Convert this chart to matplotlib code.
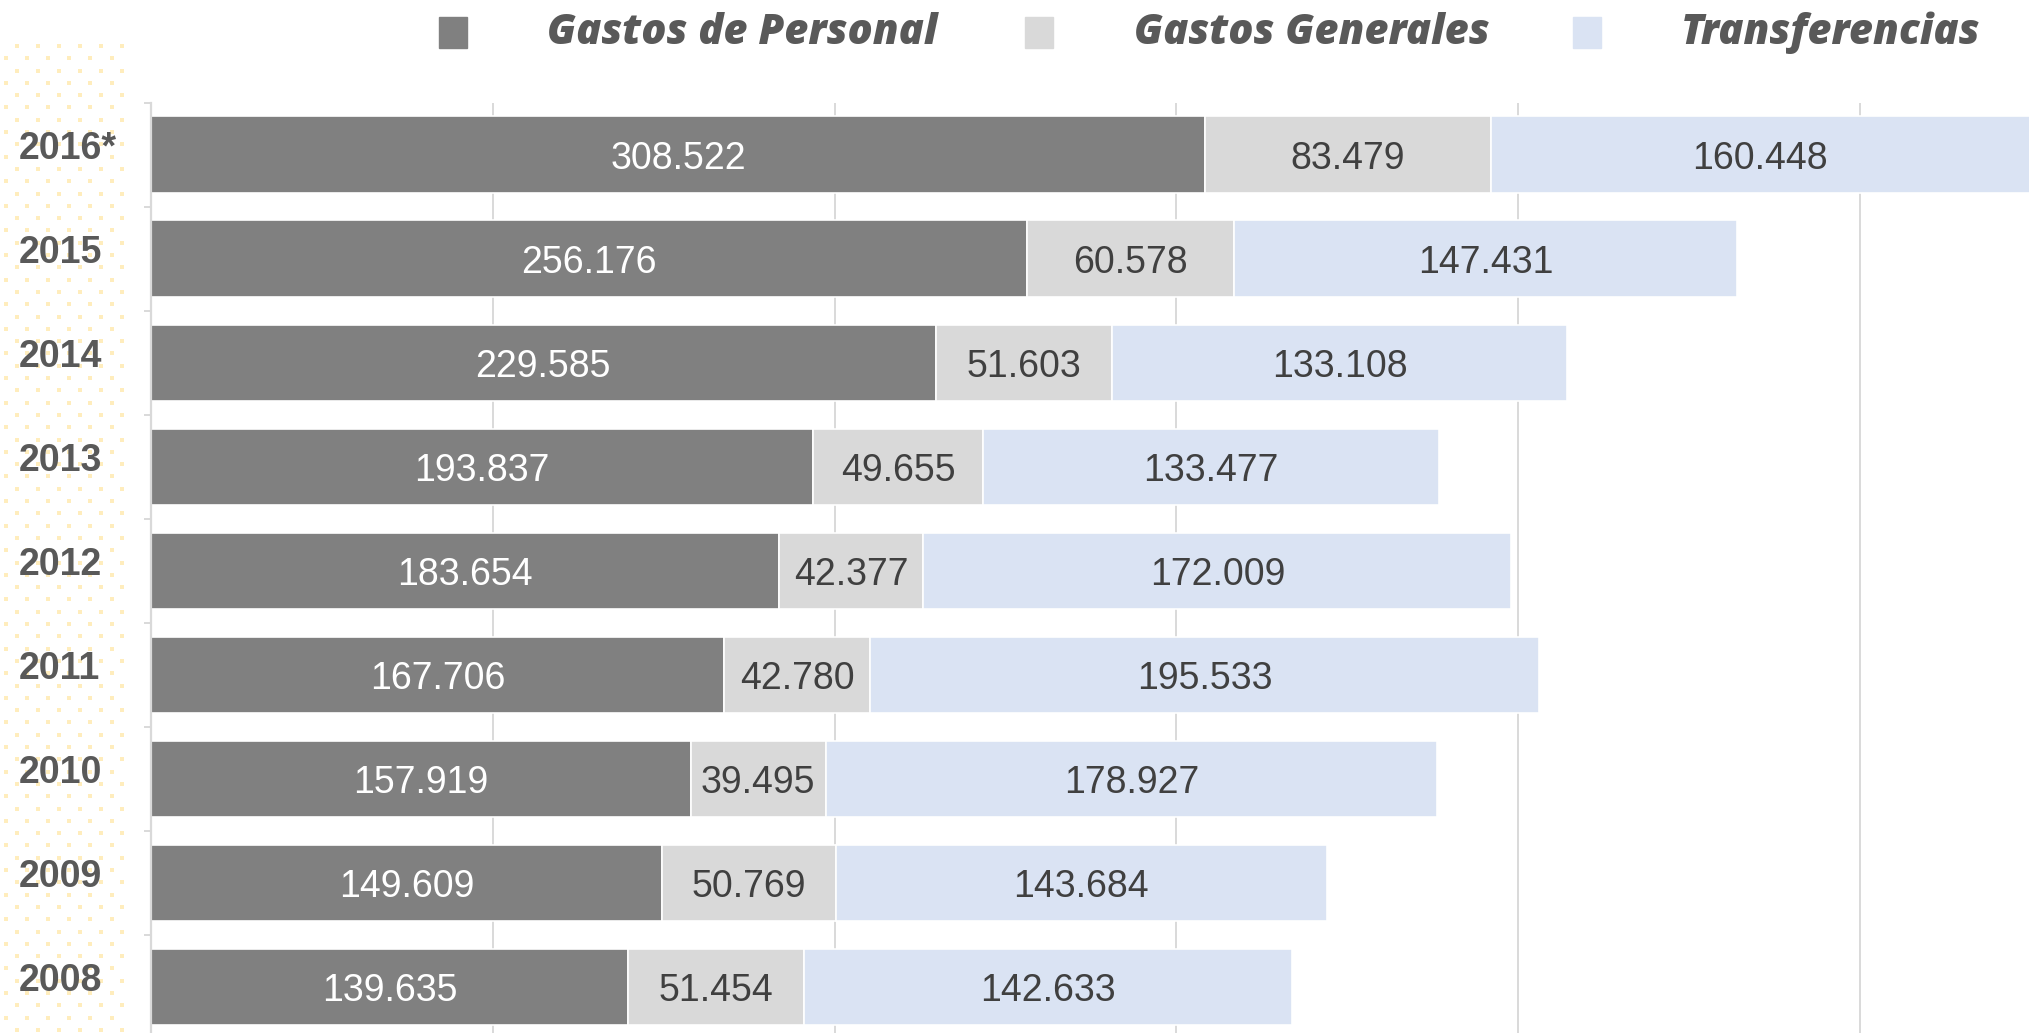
import numpy as np
import matplotlib
matplotlib.use("Agg")
import matplotlib.pyplot as plt
from matplotlib.patches import Rectangle
from matplotlib.transforms import ScaledTranslation

# ---------------- data ----------------
years = ["2016*", "2015", "2014", "2013", "2012", "2011", "2010", "2009", "2008"]
series_names = ["Gastos de Personal", "Gastos Generales", "Transferencias"]
gastos_personal = [308.522, 256.176, 229.585, 193.837, 183.654, 167.706, 157.919, 149.609, 139.635]
gastos_generales = [83.479, 60.578, 51.603, 49.655, 42.377, 42.780, 39.495, 50.769, 51.454]
transferencias = [160.448, 147.431, 133.108, 133.477, 172.009, 195.533, 178.927, 143.684, 142.633]
x_ticks = [0, 100, 200, 300, 400, 500]

colors = ["#808080", "#D9D9D9", "#DAE3F3"]
label_colors = ["white", "#404040", "#404040"]

W, H = 2029, 1033
fig = plt.figure(figsize=(W / 100, H / 100), dpi=100)

# dotted background pattern on the left
bg = fig.add_axes([0, 0, 1, 1], zorder=-5)
bg.set_xlim(0, W)
bg.set_ylim(H, 0)
bg.axis("off")
rows = np.arange(46, H + 10, 12.3)
px, py = [], []
for k, ry in enumerate(rows):
    start = 16.7 if k % 2 == 0 else 6.0
    for cx in np.arange(start, 126, 21.1):
        px.append(cx)
        py.append(ry)
bg.scatter(px, py, s=6, marker="s", color="#FFEDBD", linewidths=0)

# main axes
ax = fig.add_axes([151 / W, -0.0058, 1 - 151 / W, 0.9064])
ax.patch.set_alpha(0)
y = np.arange(len(years))
series = [gastos_personal, gastos_generales, transferencias]
left = np.zeros(len(years))
for vals, c, lc in zip(series, colors, label_colors):
    vals = np.array(vals)
    bars = ax.barh(y, vals, left=left, height=0.735, color=c,
                   edgecolor="white", linewidth=1.2, zorder=3)
    texts = ax.bar_label(bars, labels=[f"{v:.3f}" for v in vals], label_type="center",
                         color=lc, fontsize=27, family="Liberation Sans", zorder=4)
    for t in texts:
        t.set_va("center_baseline")
    left = left + vals

ax.set_xlim(0, 549.5)
ax.set_ylim(len(years) - 0.5, -0.5)
ax.set_xticks(x_ticks)
ax.set_xticklabels([])
ax.tick_params(axis="x", length=0)
ax.grid(axis="x", color="#D9D9D9", linewidth=1.4, zorder=0)
ax.set_axisbelow(True)
for s in ["top", "right", "bottom"]:
    ax.spines[s].set_visible(False)
ax.spines["left"].set_color("#D9D9D9")
ax.spines["left"].set_linewidth(1.6)
ax.spines["left"].set_zorder(5)

ax.set_yticks(y)
ax.set_yticklabels(years)
ax.set_yticks(np.arange(-0.5, len(years), 1.0), minor=True)
ax.tick_params(axis="y", which="major", length=0, pad=95)
ax.tick_params(axis="y", which="minor", length=5, width=1.4, color="#D9D9D9")
offset = ScaledTranslation(0, 10 / 100, fig.dpi_scale_trans)
for lab in ax.get_yticklabels():
    lab.set_ha("left")
    lab.set_fontsize(27)
    lab.set_fontweight("bold")
    lab.set_family("Liberation Sans")
    lab.set_color("#595959")
    lab.set_transform(lab.get_transform() + offset)

# legend (manual layout)
sq_x = [439, 1025, 1573]
tx_x = [547, 1134, 1681]
for name, c, sx, tx in zip(series_names, colors, sq_x, tx_x):
    fig.patches.append(Rectangle((sx / W, 1 - 48 / H), 28 / W, 31 / H,
                                 transform=fig.transFigure, color=c))
    fig.text(tx / W, 1 - 44 / H, name, ha="left", va="baseline",
             fontsize=30, family="Open Sans", weight="extra bold", style="italic",
             color="#595959")

fig.savefig("out.png", dpi=100)
